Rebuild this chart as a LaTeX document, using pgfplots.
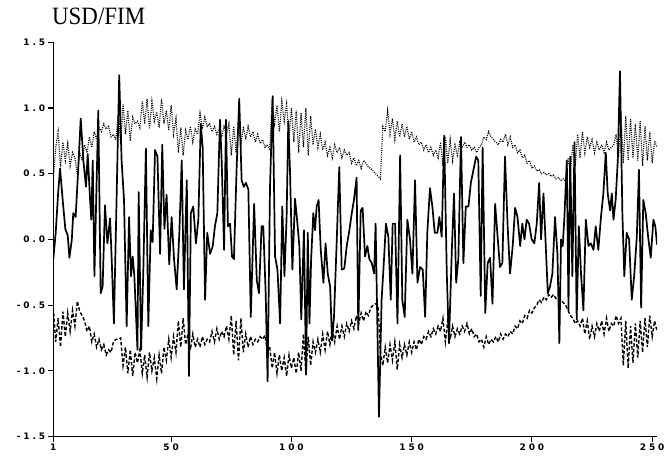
\documentclass[border=0pt]{standalone}
\usepackage{pgfplots}
\pgfplotsset{compat=1.18}
\usepackage{fontspec}
\setmainfont{Liberation Serif}
\newfontfamily\tickfont[LetterSpace=32]{DejaVu Sans Bold}
\newfontfamily\titlefont[FakeStretch=0.92]{Liberation Serif}
\begin{document}
\begin{tikzpicture}
\useasboundingbox (0,0) rectangle (670bp,460bp);
\node[anchor=base west, inner sep=0pt, font=\titlefont\fontsize{25}{25}\selectfont] at (52bp,435bp) {USD/FIM};
\begin{axis}[
  at={(53.3bp,23.5bp)}, anchor=south west,
  scale only axis, width=603.7bp, height=394.2bp,
  xmin=1, xmax=252, ymin=-1.5, ymax=1.5,
  axis lines*=left,
  axis line style={line width=1.2bp, black},
  xtick={1,50,100,150,200,250},
  xticklabels={1,50,100,150,200,250},
  ytick={-1.5,-1,-0.5,0,0.5,1,1.5},
  yticklabels={-1.5,-1.0,-0.5,0.0,0.5,1.0,1.5},
  tick align=outside, major tick length=5bp,
  tick style={line width=1.1bp, black},
  ticklabel style={font=\tickfont\fontsize{9}{10}\selectfont},
  xticklabel style={inner sep=2.5bp},
  yticklabel style={inner sep=3bp},
]
% solid series
\addplot[black, line width=1.7bp, line join=round] coordinates {
(1,-0.15)(2,0.05)(3,0.35)(3.8,0.54)(5,0.28)(6,0.08)(7,0.03)(7.7,-0.14)(8.7,0.0)(9.3,0.20)
(10.3,0.17)(11.4,0.55)(12.4,0.92)(13.5,0.60)(14.6,0.40)(15.3,0.65)(16.3,0.30)(16.8,0.15)(17.4,0.60)(18.1,-0.28)
(19.7,0.98)(20.7,-0.41)(21.5,-0.36)(22.5,0.26)(23.5,-0.03)(24.6,0.16)(25.3,-0.16)(26.2,-0.64)(27.3,0.30)(28.4,1.25)
(29.4,0.60)(30.4,0.30)(31.5,-0.66)(32.5,0.17)(33.3,-0.28)(34.0,-0.13)(34.7,-0.28)(36.0,-0.84)(36.5,0.36)(37.5,-0.84)
(38.4,-0.26)(39.5,0.69)(40.5,-0.66)(41.5,0.07)(42.3,-0.02)(43.3,0.68)(44.3,0.63)(45.4,-0.11)(46.3,0.72)(47.2,0.08)
(48.1,0.34)(49.2,-0.19)(50.2,0.17)(51.2,-0.15)(52.3,-0.38)(53.4,0.05)(54.4,0.60)(55.3,-0.38)(56.5,0.45)(57.4,-1.04)
(58.2,0.20)(59.2,0.25)(60.3,-0.03)(61.3,0.15)(62.3,0.88)(63.1,0.70)(64.1,-0.46)(65.0,0.05)(66.2,-0.11)(67.3,-0.05)
(68.2,0.10)(69.2,0.20)(70.3,0.91)(71.0,0.60)(72.0,-0.08)(72.8,0.91)(73.6,0.10)(74.5,0.12)(75.3,-0.13)(76.1,-0.15)
(77.2,0.53)(78.3,1.07)(79.3,0.45)(80.2,0.40)(81.1,0.43)(82.1,0.38)
(83.1,-0.59)(84.5,0.27)(85.6,-0.31)(86.5,-0.41)(87.6,0.10)(88.3,0.10)(89.3,-0.41)(90.1,-1.08)(91.1,0.40)(92.2,1.09)
(93.2,-0.13)(94.2,-0.23)(95.3,-0.64)(96.2,0.25)(97.1,-0.28)(98.0,0.17)(98.7,0.90)(99.4,0.53)(100.4,-0.23)(101.5,0.31)
(102.5,0.12)(103.3,-0.05)(104.1,-0.61)(105.2,0.07)(106.1,-1.03)(106.8,0.05)(107.5,-0.64)(108.2,-0.15)(109.1,0.20)(109.8,0.07)
(110.5,0.25)(111.3,0.30)(112.2,-0.08)(113.3,-0.33)(114.2,-0.03)(115.1,-0.26)(116.1,-0.36)(116.9,-0.77)(117.7,-0.59)(118.8,-0.03)
(119.9,0.55)(120.9,-0.23)(122.0,-0.22)(123.0,-0.05)(124.1,0.07)(125.1,0.20)(126.0,0.30)(127.1,0.47)(127.8,-0.69)(128.8,0.22)
(129.6,0.24)(130.6,-0.13)(131.6,-0.05)(132.4,-0.15)(133.4,-0.18)(134.4,-0.26)(135.0,0.12)(136.4,-1.35)(137.5,-0.46)(138.5,-0.15)
(139.3,0.12)(140.3,0.02)(141.3,-0.46)(142.1,0.12)(143.1,0.12)(144.1,-0.64)(145.2,0.64)(146.1,-0.46)(147.1,-0.59)(148.2,0.15)
(149.3,0.0)(150.3,-0.26)(151.4,0.45)(152.4,-0.33)(153.5,-0.21)(154.6,-0.23)(155.6,-0.59)(156.5,0.05)(157.6,0.39)(158.6,0.25)
(159.6,0.05)(160.7,0.05)(161.5,0.17)(162.5,0.02)(163.5,0.79)(164.6,-0.26)(165.5,-0.79)
(166.7,-0.08)(167.6,0.35)(168.5,-0.33)(169.4,-0.15)(170.5,0.78)(171.5,-0.18)(172.5,0.25)(173.6,0.25)(174.6,0.43)(175.7,0.53)
(176.8,0.63)(177.7,0.60)(178.7,-0.43)(179.5,0.70)(180.6,-0.56)(181.6,-0.18)(182.6,-0.14)(183.6,-0.49)(184.7,0.27)(185.6,0.05)
(186.7,-0.21)(187.7,-0.18)(188.8,0.63)(189.9,0.10)(190.9,-0.26)(192.0,-0.05)(193.0,0.24)(194.0,0.17)(195.1,-0.05)(196.0,0.12)
(196.9,0.0)(197.8,0.15)(198.8,0.12)(199.9,0.0)(201.0,-0.03)(202.0,0.12)(203.0,0.43)(203.8,0.0)(204.8,0.35)(205.7,-0.03)
(206.6,-0.41)(207.5,-0.36)(208.5,-0.26)(209.6,0.17)(210.6,-0.11)(211.4,-0.79)(212.1,0.0)(212.8,-0.05)(213.5,0.17)(214.5,0.60)
(215.2,-0.54)(215.9,0.63)(216.8,-0.28)(217.7,0.74)(218.6,-0.61)(219.5,0.10)(220.4,-0.26)(221.4,-0.54)(222.4,0.15)(223.5,-0.05)
(224.5,-0.03)(225.6,-0.08)(226.5,0.10)(227.6,-0.08)(228.7,0.17)(229.7,0.35)(230.7,0.66)(231.5,0.35)(232.5,0.22)(233.2,0.35)
(233.9,0.15)(234.8,0.30)(235.7,0.60)(236.6,1.28)(237.6,0.20)(238.4,-0.28)(239.4,0.05)(240.4,0.0)(241.5,-0.46)(242.5,-0.28)
(243.6,0.02)(244.5,0.53)(245.4,-0.52)(246.3,0.30)(247.3,0.20)(248.3,0.02)(249.4,-0.14)(250.5,0.15)(251.3,0.10)(252,-0.04)
};
% dotted upper series
\addplot[black, line width=1.15bp, dash pattern=on 1bp off 1.2bp] coordinates {
(1,0.45)(2,0.70)(3,0.82)(4,0.55)(5,0.74)(6,0.60)(7,0.73)(8,0.56)(9,0.66)(10,0.62)
(11,0.50)(12,0.66)(13,0.60)(14,0.72)(15,0.66)(16,0.78)(17,0.70)(18,0.82)(19,0.76)(20,0.85)
(21,0.82)(22,0.88)(23,0.84)(24,0.86)(25,0.78)(26,0.80)(27,0.76)(28,0.95)(29,0.72)(30,1.03)
(31,0.80)(32,0.98)(33,0.75)(34,0.93)(35,0.88)(36,0.90)(37,0.85)(38,1.05)(39,0.88)(40,1.07)
(41,0.84)(42,1.05)(43,0.90)(44,0.97)(45,0.85)(46,1.07)(47,0.88)(48,0.98)(49,0.83)(50,1.02)
(51,0.80)(52,0.92)(53,0.66)(54,0.85)(55,0.64)(56,0.83)(57,0.76)(58,0.86)(59,0.74)(60,0.84)
(61,0.80)(62,0.96)(63,0.84)(64,0.93)(65,0.86)(66,0.88)(67,0.82)(68,0.86)(69,0.80)(70,0.84)
(71,0.78)(72,0.86)(73,0.80)(74,0.88)(75,0.64)(76,0.86)(77,0.66)(78,0.88)(79,0.72)(80,0.86)
(81,0.76)(82,0.86)(83,0.78)(84,0.82)(85,0.74)(86,0.80)(87,0.73)(88,0.76)(89,0.70)(90,0.72)
(91,0.68)(92,1.06)(93,0.88)(94,1.02)(95,0.82)(96,1.05)(97,0.90)(98,1.03)(99,0.78)(100,1.00)
(101,0.74)(102,0.98)(103,0.66)(104,0.96)(105,0.70)(106,1.00)(107,0.64)(108,0.94)(109,0.72)(110,0.84)
(111,0.70)(112,0.80)(113,0.68)(114,0.74)(115,0.64)(116,0.70)(117,0.62)(118,0.72)(119,0.66)(120,0.70)
(121,0.62)(122,0.68)(123,0.64)(124,0.66)(125,0.58)(126,0.62)(127,0.56)(128,0.60)(129,0.54)(130,0.60)
(131,0.58)(132,0.55)(133,0.54)(134,0.52)(135,0.50)(136,0.48)(137,0.46)(138,0.86)(139,0.82)(140,0.98)
(141,0.80)(142,0.92)(143,0.76)(144,0.90)(145,0.78)(146,0.88)(147,0.78)(148,0.86)(149,0.76)(150,0.82)
(151,0.74)(152,0.78)(153,0.72)(154,0.74)(155,0.68)(156,0.72)(157,0.66)(158,0.70)(159,0.64)(160,0.68)
(161,0.62)(162,0.74)(163,0.56)(164,0.78)(165,0.58)(166,0.76)(167,0.60)(168,0.72)(169,0.64)(170,0.74)
(171,0.70)(172,0.74)(173,0.70)(174,0.72)(175,0.68)(176,0.70)(177,0.66)(178,0.70)(179,0.72)(180,0.78)
(181,0.76)(182,0.82)(183,0.78)(184,0.76)(185,0.74)(186,0.72)(187,0.76)(188,0.74)(189,0.80)(190,0.72)
(191,0.78)(192,0.70)(193,0.72)(194,0.66)(195,0.68)(196,0.62)(197,0.64)(198,0.58)(199,0.60)(200,0.54)
(201,0.56)(202,0.52)(203,0.53)(204,0.50)(205,0.51)(206,0.49)(207,0.50)(208,0.48)(209,0.49)(210,0.46)
(211,0.47)(212,0.45)(213,0.46)(214,0.44)(215,0.62)(216,0.52)(217,0.72)(218,0.56)(219,0.80)(220,0.62)
(221,0.82)(222,0.66)(223,0.78)(224,0.70)(225,0.76)(226,0.66)(227,0.74)(228,0.68)(229,0.72)(230,0.66)
(231,0.74)(232,0.68)(233,0.70)(234,0.72)(235,0.80)(236,0.62)(237,0.96)(238,0.58)(239,0.94)(240,0.60)
(241,0.92)(242,0.62)(243,0.88)(244,0.60)(245,0.90)(246,0.56)(247,0.86)(248,0.60)(249,0.82)(250,0.58)
(251,0.75)(252,0.70)
};
% dashed lower series
\addplot[black, line width=1.4bp, dash pattern=on 3.5bp off 2bp] coordinates {
(1,-0.52)(2,-0.78)(3,-0.60)(4,-0.82)(5,-0.55)(6,-0.74)(7,-0.56)(8,-0.70)(9,-0.54)(10,-0.66)
(11,-0.47)(12,-0.55)(13,-0.58)(14,-0.62)(15,-0.70)(16,-0.66)(17,-0.78)(18,-0.72)(19,-0.82)(20,-0.76)
(21,-0.84)(22,-0.80)(23,-0.88)(24,-0.84)(25,-0.86)(26,-0.78)(27,-0.76)(28,-0.76)(29,-0.75)(30,-0.96)
(31,-0.82)(32,-1.02)(33,-0.84)(34,-1.04)(35,-0.86)(36,-0.94)(37,-0.84)(38,-1.02)(39,-0.88)(40,-1.05)
(41,-0.86)(42,-1.00)(43,-0.90)(44,-1.06)(45,-0.88)(46,-1.02)(47,-0.82)(48,-0.92)(49,-0.76)(50,-0.90)
(51,-0.74)(52,-0.86)(53,-0.62)(54,-0.82)(55,-0.60)(56,-0.80)(57,-0.72)(58,-0.84)(59,-0.72)(60,-0.82)
(61,-0.76)(62,-0.82)(63,-0.74)(64,-0.80)(65,-0.76)(66,-0.78)(67,-0.70)(68,-0.78)(69,-0.68)(70,-0.76)
(71,-0.70)(72,-0.74)(73,-0.66)(74,-0.76)(75,-0.58)(76,-0.88)(77,-0.62)(78,-0.92)(79,-0.60)(80,-0.86)
(81,-0.72)(82,-0.82)(83,-0.74)(84,-0.80)(85,-0.76)(86,-0.78)(87,-0.74)(88,-0.76)(89,-0.73)(90,-0.84)
(91,-0.82)(92,-0.98)(93,-0.86)(94,-1.02)(95,-0.88)(96,-1.00)(97,-0.90)(98,-1.04)(99,-0.88)(100,-0.98)
(101,-0.90)(102,-1.02)(103,-0.86)(104,-1.00)(105,-0.72)(106,-1.02)(107,-0.74)(108,-0.96)(109,-0.78)(110,-0.86)
(111,-0.76)(112,-0.86)(113,-0.72)(114,-0.84)(115,-0.70)(116,-0.80)(117,-0.68)(118,-0.78)(119,-0.66)(120,-0.76)
(121,-0.66)(122,-0.74)(123,-0.64)(124,-0.70)(125,-0.62)(126,-0.68)(127,-0.58)(128,-0.64)(129,-0.56)(130,-0.62)
(131,-0.55)(132,-0.58)(133,-0.52)(134,-0.50)(135,-0.49)(136,-0.50)(137,-0.86)(138,-0.96)(139,-0.82)(140,-0.94)
(141,-0.80)(142,-0.92)(143,-0.78)(144,-0.99)(145,-0.80)(146,-0.90)(147,-0.80)(148,-0.88)(149,-0.78)(150,-0.86)
(151,-0.78)(152,-0.84)(153,-0.76)(154,-0.80)(155,-0.74)(156,-0.76)(157,-0.70)(158,-0.74)(159,-0.68)(160,-0.72)
(161,-0.66)(162,-0.70)(163,-0.60)(164,-0.78)(165,-0.62)(166,-0.76)(167,-0.66)(168,-0.74)(169,-0.68)(170,-0.72)
(171,-0.66)(172,-0.70)(173,-0.64)(174,-0.72)(175,-0.68)(176,-0.74)(177,-0.72)(178,-0.78)(179,-0.76)(180,-0.82)
(181,-0.74)(182,-0.80)(183,-0.76)(184,-0.78)(185,-0.74)(186,-0.78)(187,-0.72)(188,-0.76)(189,-0.72)(190,-0.74)
(191,-0.70)(192,-0.72)(193,-0.66)(194,-0.68)(195,-0.62)(196,-0.64)(197,-0.58)(198,-0.60)(199,-0.54)(200,-0.56)
(201,-0.52)(202,-0.50)(203,-0.46)(204,-0.48)(205,-0.44)(206,-0.46)(207,-0.42)(208,-0.44)(209,-0.42)(210,-0.45)
(211,-0.44)(212,-0.46)(213,-0.48)(214,-0.50)(215,-0.54)(216,-0.58)(217,-0.60)(218,-0.64)(219,-0.62)(220,-0.66)
(221,-0.60)(222,-0.72)(223,-0.62)(224,-0.76)(225,-0.66)(226,-0.74)(227,-0.64)(228,-0.70)(229,-0.62)(230,-0.72)
(231,-0.60)(232,-0.70)(233,-0.64)(234,-0.66)(235,-0.58)(236,-0.64)(237,-0.60)(238,-0.96)(239,-0.62)(240,-0.98)
(241,-0.66)(242,-0.94)(243,-0.64)(244,-0.90)(245,-0.62)(246,-0.86)(247,-0.60)(248,-0.82)(249,-0.58)(250,-0.74)
(251,-0.62)(252,-0.70)
};
\end{axis}
\end{tikzpicture}
\end{document}
